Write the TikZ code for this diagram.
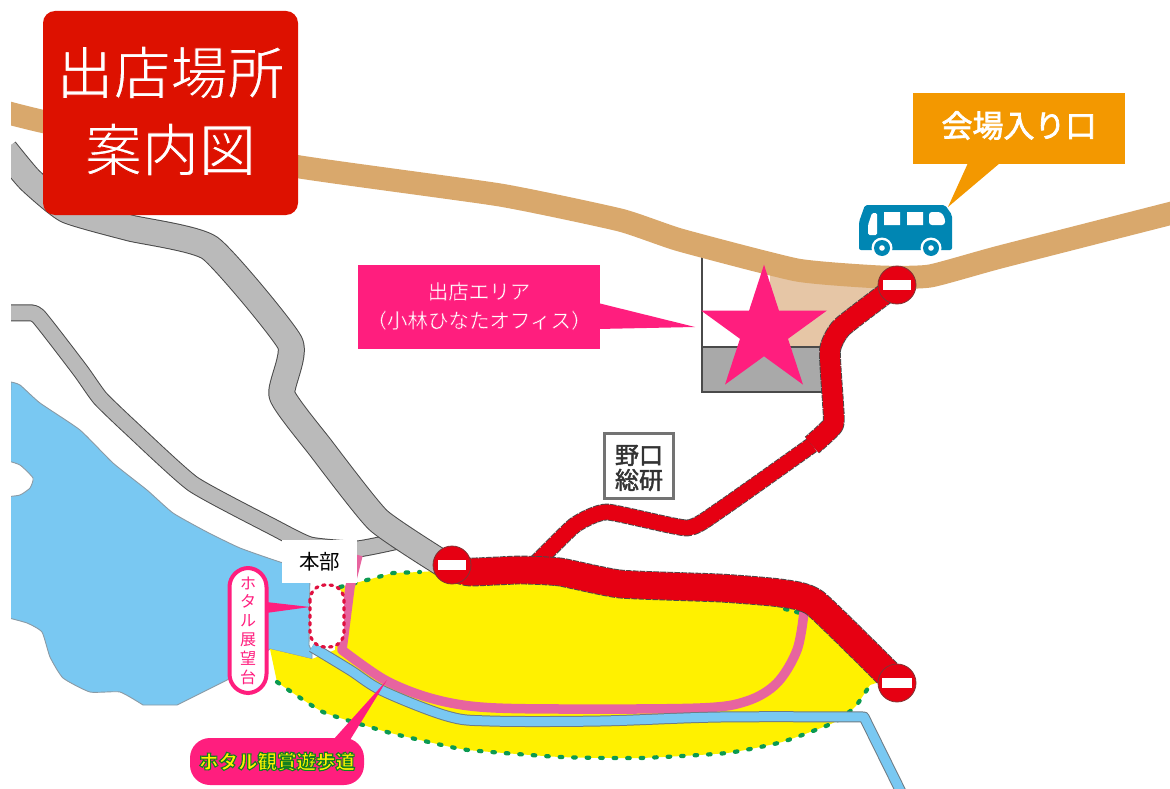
\documentclass[tikz,border=0pt]{standalone}
\usepackage{fontspec}
\setmainfont{Noto Sans CJK JP}
\definecolor{tanroad}{HTML}{D9A86C}
\definecolor{tanlight}{HTML}{E6C6A6}
\definecolor{grayroad}{HTML}{BABABA}
\definecolor{casing}{HTML}{4A4A4A}
\definecolor{lake}{HTML}{79C8F2}
\definecolor{lakeedge}{HTML}{8A9AA5}
\definecolor{pad}{HTML}{FFF100}
\definecolor{dotgreen}{HTML}{0B9A50}
\definecolor{redroad}{HTML}{E60012}
\definecolor{walk}{HTML}{E7649F}
\definecolor{hotpink}{HTML}{FF1E7E}
\definecolor{titlered}{HTML}{DD1100}
\definecolor{orangebox}{HTML}{F39800}
\definecolor{busblue}{HTML}{0086B3}
\definecolor{rectgray}{HTML}{A9A9A9}
\definecolor{dotred}{HTML}{E0103F}
\newcommand{\thinred}{\special{pdf:code 2 Tr 0.9 w 0.867 0.067 0 RG}}
\newcommand{\thinpink}{\special{pdf:code 2 Tr 0.35 w 1 0.118 0.494 RG}}
\newcommand{\greenedge}{\special{pdf:code 2 Tr 1.1 w 0.08 0.5 0.12 RG}}
\newcommand{\whiteedge}{\special{pdf:code 2 Tr 0.7 w 1 1 1 RG}}
\newcommand{\darkedge}{\special{pdf:code 2 Tr 0.45 w 0.2 0.2 0.2 RG}}
\newcommand{\plainfill}{\special{pdf:code 0 Tr}}
\tikzset{
  smoothpath/.style={smooth,tension=0.3},
  softpath/.style={smooth,tension=0.55},
  graycase/.style={draw=casing,line width=#1+2pt,line join=round},
  grayfill/.style={draw=grayroad,line width=#1,line join=round},
  redcase/.style={draw=casing,line width=#1+1.8pt,dash pattern=on 6pt off 1pt,line join=round},
  redfill/.style={draw=redroad,line width=#1,line join=round},
  signdisc/.style={circle,fill=redroad,draw=casing!70!red,line width=0.8pt,minimum size=38pt,inner sep=0pt},
  signbar/.style={fill=white,minimum width=#1,minimum height=9.5pt,inner sep=0pt},
  labeltext/.style={inner sep=0pt,align=center,font=\fontsize{20.5}{29}\selectfont},
  greendots/.style={dotgreen,line width=4.2pt,dash pattern=on 2.5pt off 11pt,line cap=round}
}
\begin{document}
\begin{tikzpicture}[x=1pt,y=-1pt]
\useasboundingbox (0,0) rectangle (1170,789);
\fill[white] (0,0) rectangle (1170,789);
\begin{scope}
\clip (11,0) rectangle (1170,789);
% lake
\draw[fill=lake,draw=lakeedge,line width=0.9pt]
  plot[smoothpath] coordinates {(11,382) (20,385) (40,403) (80,430) (113,463) (147,490) (173,513) (207,532) (240,548) (280,562) (310,570)}
  -- (309,645) -- (312,652) -- (312,659) -- (270,649) -- (227,680)
  -- (177,705) -- (143,705)
  -- plot[smoothpath] coordinates {(143,705) (120,692) (90,692) (63,678) (50,657) (42,632) (27,623) (5,617)}
  -- cycle;
\fill[white,draw=lakeedge,line width=0.9pt]
  plot[smoothpath] coordinates {(5,460) (20,465) (33,478) (30,488) (20,495) (5,497)} -- cycle;
% yellow area
\fill[pad] (270,649)
  -- plot[smoothpath] coordinates {(277,682) (323,712) (387,732) (433,743) (468,750) (560,757) (640,758) (727,753) (782,742) (833,723) (855,707) (870,685)}
  -- (885,680) -- (805,605) -- (720,590) -- (620,585) -- (520,570) -- (452,570)
  -- (420,572) -- (393,573) -- (367,580) -- (340,587) -- (335,650) -- (312,659) -- cycle;
\draw[greendots]
  plot[smoothpath] coordinates {(277,682) (323,712) (387,732) (433,743) (468,750) (560,757) (640,758) (727,753) (782,742) (833,723) (855,707) (870,685)};
\draw[greendots] (340,587) -- (367,580) -- (393,573) -- (420,572);
\draw[greendots,dash pattern=on 2.5pt off 9pt] (785,609) -- (800,613);
% gray roads
\def\roadA{(5,150) (30,180) (67,210) (130,228) (210,248) (290,343) (282,395) (320,447) (378,520) (445,565)}
\def\roadB{(5,313) (25,313) (38,316) (80,370) (100,398) (130,427) (193,484) (273,527) (310,545) (357,549) (398,541)}
\draw[graycase=15pt] plot[smoothpath] coordinates {\roadB};
\draw[grayfill=15pt] plot[smoothpath] coordinates {\roadB};
\draw[graycase=25pt] plot[smoothpath] coordinates {\roadA};
\draw[grayfill=25pt] plot[smoothpath] coordinates {\roadA};
% site plot
\fill[tanlight] (770,262) -- (885,275) -- (885,292) -- (842,327) -- (822,347) -- (770,347) -- cycle;
\fill[rectgray] (702,347) rectangle (826,392);
\draw[casing,line width=1.6pt] (702,240) -- (702,392) -- (826,392) (702,347) -- (826,347);
% main road
\draw[draw=tanroad,line width=23pt,line join=round]
  plot[smoothpath] coordinates {(5,112) (60,125) (300,167) (500,195) (620,220) (680,240) (797,270) (880,277) (930,276) (1000,257) (1180,211)};
% walk path and water channel
\draw[walk,line width=9.5pt,line join=round]
  (358,555) -- (350,587) -- (342,650) -- plot[softpath] coordinates {(342,650) (385,680) (430,698) (480,707) (560,709) (700,708) (747,701) (777,683) (797,650) (804,612)};
\def\channel{(312,647) (350,670) (383,691) (447,716) (490,721) (600,721) (720,717) (864,717)}
\draw[lakeedge!80!black,line width=11pt,line join=round]
  plot[softpath] coordinates {\channel} -- (905,800);
\draw[lake,line width=9pt,line join=round]
  plot[softpath] coordinates {\channel} -- (905,800);
% red roads
\def\redA{(897,285) (842,327) (830,350) (833,403) (833,425) (812,445)}
\def\redB{(812,445) (720,510) (687,528) (607,512) (575,525) (537,562)}
\def\redC{(452,567) (470,572) (520,570) (560,572) (620,584) (720,588) (780,593) (815,603) (897,683)}
\draw[redcase=15pt] plot[smoothpath] coordinates {\redB};
\draw[redfill=15pt] plot[smoothpath] coordinates {\redB};
\draw[redcase=20pt] plot[smoothpath] coordinates {\redA};
\draw[redfill=20pt] plot[smoothpath] coordinates {\redA};
\draw[redcase=27pt] plot[smoothpath] coordinates {\redC};
\draw[redfill=27pt] plot[smoothpath] coordinates {\redC};
\end{scope}
% no-entry signs
\node[signdisc] (signW) at (452,565) {};
\node[signdisc] (signN) at (897,285) {};
\node[signdisc] (signS) at (897,683) {};
\node[signbar=28pt] (barW) at (signW) {};
\node[signbar=28pt] (barN) at (signN) {};
\node[signbar=30pt] (barS) at (signS) {};
% star
\fill[hotpink] (764,264.7) -- (778.9,310.5) -- (827,310.5) -- (788,338.8) -- (803,384.6) -- (764,356.3) -- (725,384.6) -- (740,338.8) -- (701,310.5) -- (749.1,310.5) -- cycle;
% area callout
\node[fill=hotpink,minimum width=242pt,minimum height=84pt,inner sep=0pt] (area) at (479,307) {};
\coordinate (areatip) at (695,327);
\fill[hotpink] (598,303) -- (areatip) -- (598,329) -- cycle;
\node[labeltext,text=white] (areatext) at (479,306) {\thinpink 出店エリア\\\thinpink （小林ひなたオフィス）\plainfill};
% noguchi sign
\node[draw=black!55,fill=white,line width=2.2pt,minimum width=69pt,minimum height=65pt,inner sep=0pt] (noguchi) at (639,466) {};
\node[inner sep=0pt,align=center,font=\fontsize{24}{25}\selectfont,text=black!80] (noguchitext) at (639,468) {\darkedge 野口\\\darkedge 総研\plainfill};
% headquarters
\node[fill=white,minimum width=75pt,minimum height=43pt,inner sep=0pt,font=\fontsize{20.5}{22}\selectfont] (honbu) at (319.5,561.5) {本部};
% viewing deck
\draw[fill=white,draw=dotred,line width=3.2pt,dash pattern=on 2.5pt off 5pt,line cap=round,rounded corners=15pt] (310,585) rectangle (344,647);
\coordinate (decktip) at (310,607);
\fill[hotpink] (266,602) -- (decktip) -- (266,613) -- cycle;
\node[draw=hotpink,fill=white,line width=4pt,rounded corners=19pt,minimum width=37pt,minimum height=125pt,inner sep=0pt,align=center,text=hotpink,font=\fontsize{16}{18.8}\selectfont] (deck) at (248,630.5) {ホ\\タ\\ル\\展\\望\\台};
% promenade label
\coordinate (walktip) at (387,680);
\fill[hotpink] (333,740) -- (walktip) -- (350,740) -- cycle;
\node[fill=hotpink,rounded corners=20pt,minimum width=174pt,minimum height=47pt,inner sep=0pt,text=pad,font=\bfseries\fontsize{19.5}{22}\selectfont] (walklabel) at (277,761.5) {\greenedge ホタル観賞遊歩道\plainfill};
% title
\node[fill=titlered,rounded corners=12pt,minimum width=255pt,minimum height=204pt,inner sep=0pt] (title) at (170.5,113) {};
\node[text=white,inner sep=0pt,align=center,font=\fontsize{57}{77}\selectfont] (titletext) at (170.5,111) {\thinred 出店場所\\\thinred 案内図\plainfill};
% entrance callout
\coordinate (entrytip) at (948,207);
\fill[orangebox] (968,163) -- (entrytip) -- (1000,163) -- cycle;
\node[fill=orangebox,minimum width=212pt,minimum height=71pt,inner sep=0pt] (entry) at (1019,129) {};
\node[inner sep=0pt,text=white,font=\fontsize{31}{34}\selectfont] (entrytext) at (1019,125.5) {\whiteedge 会場入り口\plainfill};
% bus
\fill[busblue,rounded corners=2pt] (859,250) -- (859,222) -- (865,205) -- (945,205) -- (952,215) -- (952,250) -- cycle;
\fill[white] (884,212) rectangle (900,225) (907,212) rectangle (923,225);
\fill[white,rounded corners=3pt] (929,212) -- (941,212) -- (945,218) -- (945,225) -- (929,225) -- cycle;
\fill[white,rounded corners=1.5pt] (872,213) -- (877,213) -- (877,235) -- (868,235) -- (868,225) -- cycle;
\foreach \wx in {882,931}{
  \fill[white] (\wx,248) circle (10.5pt);
  \fill[busblue] (\wx,248) circle (8pt);
  \fill[white] (\wx,248) circle (2.8pt);
}
\end{tikzpicture}
\end{document}
